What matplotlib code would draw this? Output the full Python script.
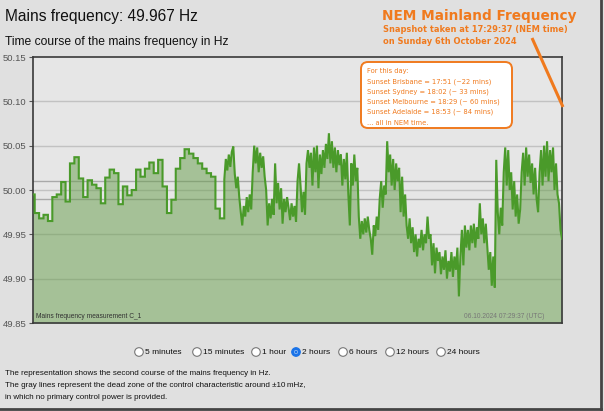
import numpy as np
import matplotlib.pyplot as plt
from matplotlib.patches import FancyBboxPatch, Circle

# ---------------- data ----------------
title_value = "49.967"
y_ticks = [49.85, 49.90, 49.95, 50.00, 50.05, 50.10, 50.15]
dead_zone = [49.99, 50.01]

# 1-minute step data (minutes relative to window start 05:29:37 UTC)
step_first_minute = -37 / 60
step_vals = [49.995, 49.974, 49.968, 49.972, 49.965, 49.992, 49.995, 50.009,
             49.987, 50.030, 50.037, 50.013, 49.992, 50.011, 50.006, 50.002,
             49.985, 50.014, 50.023, 50.019, 49.984, 50.004, 49.994, 50.000,
             50.023, 50.015, 50.024, 50.031, 50.019, 50.034, 50.004, 49.974,
             49.989, 50.024, 50.036, 50.046, 50.041, 50.036, 50.030, 50.024,
             50.019, 50.015, 49.979, 49.968]

# high resolution data from minute 43.4 to 120
hires_start, hires_end = 43.4, 120.0
hires_vals = [
    50.012, 50.035, 50.022, 50.040, 50.026, 50.043, 50.049,
    50.018, 50.002, 50.015, 49.992,
    49.975, 49.960, 49.982,
    49.970, 49.992, 49.975, 49.995, 49.978,
    50.020, 50.050,
    50.030, 50.048, 50.020, 50.042, 50.025, 50.038, 50.015,
    50.000, 49.960, 49.985,
    49.968, 49.990, 49.972,
    50.030,
    49.985, 50.008, 49.978, 50.002,
    49.962, 49.990,
    49.975, 49.992, 49.980,
    49.966, 49.985, 49.970, 49.982, 49.964,
    50.010, 50.030, 50.005,
    49.975, 49.998, 49.972,
    50.030, 50.045, 50.025, 50.042,
    50.005, 50.048, 50.020, 50.050, 50.002, 50.040, 50.018,
    50.045, 50.025, 50.052, 50.035, 50.064,
    50.030, 50.055, 50.025, 50.048, 50.020, 50.045, 50.028,
    50.040, 50.005, 50.035, 50.012, 50.042, 49.995, 49.960,
    50.030, 50.005, 50.040, 50.010, 50.025,
    49.970, 49.945, 49.965, 49.950,
    49.968, 49.952, 49.970, 49.955, 49.945, 49.927,
    49.960, 49.948, 49.970, 49.955,
    49.990, 50.010, 49.980, 50.005, 49.995,
    50.055,
    50.020, 50.040, 50.005, 50.035, 50.000, 50.030, 50.010,
    50.025, 49.975, 50.015, 49.970, 49.995,
    49.960, 49.945, 49.968, 49.940, 49.958,
    49.930, 49.950, 49.925, 49.945, 49.935,
    49.955, 49.932, 49.950, 49.940, 49.970,
    49.945, 49.950, 49.915, 49.940, 49.906, 49.935, 49.920,
    49.930, 49.905, 49.925, 49.910, 49.932, 49.900, 49.920, 49.908, 49.930, 49.902, 49.925,
    49.910, 49.935, 49.880,
    49.925, 49.955, 49.915, 49.960, 49.935,
    49.955, 49.932, 49.960, 49.940, 49.962, 49.935, 49.958, 49.945,
    49.985,
    49.950, 49.968, 49.940, 49.962, 49.935,
    49.910, 49.930, 49.892, 49.925, 49.890,
    50.034,
    49.975, 49.950, 49.980, 49.960,
    50.020, 50.048, 50.005, 50.045,
    50.000, 50.020, 49.978, 50.010, 49.970, 49.995,
    49.962, 49.978,
    50.020, 50.042, 50.005, 50.048, 50.015, 50.040, 50.008,
    50.030, 49.995, 50.025, 49.990, 49.975,
    50.020, 50.045, 50.005, 50.050, 50.015, 50.055, 50.010, 50.045, 50.020, 50.048,
    50.000, 50.030, 49.995,
    49.985, 49.955, 49.945,
]

radio_labels = ["5 minutes", "15 minutes", "1 hour", "2 hours", "6 hours", "12 hours", "24 hours"]
radio_selected = "2 hours"
sunset_lines = ["For this day:",
                "Sunset Brisbane = 17:51 (~22 mins)",
                "Sunset Sydney = 18:02 (~ 33 mins)",
                "Sunset Melbourne = 18:29 (~ 60 mins)",
                "Sunset Adelaide = 18:53 (~ 84 mins)",
                "... all in NEM time."]
footer_lines = ["The representation shows the second course of the mains frequency in Hz.",
                "The gray lines represent the dead zone of the control characteristic around \u00b110\u2009mHz,",
                "in which no primary control power is provided."]

# ---------------- build series ----------------
xs, ys = [], []
for i, v in enumerate(step_vals):
    t = step_first_minute + i
    xs += [t, t + 1]
    ys += [v, v]
hires_t = np.linspace(hires_start, hires_end, len(hires_vals))
xs += list(hires_t)
ys += list(hires_vals)
xs = np.array(xs)
ys = np.array(ys)

# ---------------- figure ----------------
plt.rcParams['font.family'] = ['Liberation Sans', 'DejaVu Sans']
W, H = 604, 411
fig = plt.figure(figsize=(W / 100, H / 100), dpi=100)
fig.patch.set_facecolor('#e0e0e0')

L, R, T, B = 33, 562, 57, 323
ax = fig.add_axes([L / W, 1 - B / H, (R - L) / W, (B - T) / H])
ax.set_facecolor('#e6e6e6')
ax.set_xlim(0, 120)
ax.set_ylim(49.85, 50.15)
ax.set_yticks(y_ticks)
ax.set_yticklabels([f"{v:.2f}" for v in y_ticks], fontsize=6.8, color='#555555')
ax.set_xticks([])
ax.tick_params(axis='y', length=3, width=0.8, color='#555555', pad=1.5)
for y in y_ticks[1:-1]:
    ax.axhline(y, color='#c2c2c2', lw=1.0, zorder=1)
for y in dead_zone:
    ax.axhline(y, color='#a9a9a9', lw=1.0, zorder=1)
ax.fill_between(xs, ys, 49.85, color='#669e4a', alpha=0.5, lw=0, zorder=2)
ax.plot(xs, ys, color='#4a9a2a', lw=1.5, zorder=3, solid_joinstyle='miter')
for s in ax.spines.values():
    s.set_color('#3a3a3a')
    s.set_linewidth(1.2)
ax.text(0.006, 0.012, "Mains frequency measurement C_1", transform=ax.transAxes,
        fontsize=4.8, color='#333333', ha='left', va='bottom', zorder=5)
ax.text(0.966, 0.012, "06.10.2024 07:29:37 (UTC)", transform=ax.transAxes,
        fontsize=4.8, color='#777777', ha='right', va='bottom', zorder=5)

# overlay in pixel coordinates for page elements
ov = fig.add_axes([0, 0, 1, 1], facecolor='none')
ov.set_xlim(0, W)
ov.set_ylim(H, 0)
ov.axis('off')

ov.text(5, 17, f"Mains frequency: {title_value} Hz", fontsize=11.2, color='#111111',
        ha='left', va='center')
ov.text(5, 42, "Time course of the mains frequency in Hz", fontsize=8.7, color='#111111',
        ha='left', va='center')

orange = '#f07a1e'
ov.text(577, 16, "NEM Mainland Frequency", fontsize=9.8, fontweight='bold', color=orange,
        ha='right', va='center', family='DejaVu Sans')
ov.text(383, 30, "Snapshot taken at 17:29:37 (NEM time)", fontsize=5.95, fontweight='bold',
        color=orange, ha='left', va='center', family='DejaVu Sans')
ov.text(383, 42, "on Sunday 6th October 2024", fontsize=5.95, fontweight='bold',
        color=orange, ha='left', va='center', family='DejaVu Sans')
ov.plot([532, 563], [38, 107], color=orange, lw=2.2, solid_capstyle='butt')

box = FancyBboxPatch((361, 62), 151, 66, boxstyle="round,pad=0,rounding_size=7",
                     facecolor='white', edgecolor=orange, lw=1.4, zorder=4)
ov.add_patch(box)
for i, line in enumerate(sunset_lines):
    ov.text(367, 71 + i * 10.3, line, fontsize=4.9, color=orange, ha='left', va='center',
            family='DejaVu Sans', zorder=5)

# radio buttons
radio_x = [139, 197, 256, 296, 343, 390, 441]
ry = 352
for x, lab in zip(radio_x, radio_labels):
    if lab == radio_selected:
        ov.add_patch(Circle((x, ry), 4.3, facecolor='#1a73e8', edgecolor='#1a73e8', lw=0.8, zorder=5))
        ov.add_patch(Circle((x, ry), 1.9, facecolor='white', edgecolor='none', zorder=6))
        ov.add_patch(Circle((x, ry), 1.6, facecolor='#1a73e8', edgecolor='none', zorder=7))
    else:
        ov.add_patch(Circle((x, ry), 4.3, facecolor='white', edgecolor='#777777', lw=0.8, zorder=5))
    ov.text(x + 6, ry + 0.5, lab, fontsize=6.0, color='#111111', ha='left', va='center')

for i, line in enumerate(footer_lines):
    ov.text(5, 373 + i * 12, line, fontsize=5.8, color='#111111', ha='left', va='center')

# screenshot frame shadow
ov.plot([601, 601], [0, 409], color='#444444', lw=2.0)
ov.plot([0, 601], [409, 409], color='#444444', lw=2.0)

fig.savefig('out.png', dpi=100, facecolor=fig.get_facecolor())
